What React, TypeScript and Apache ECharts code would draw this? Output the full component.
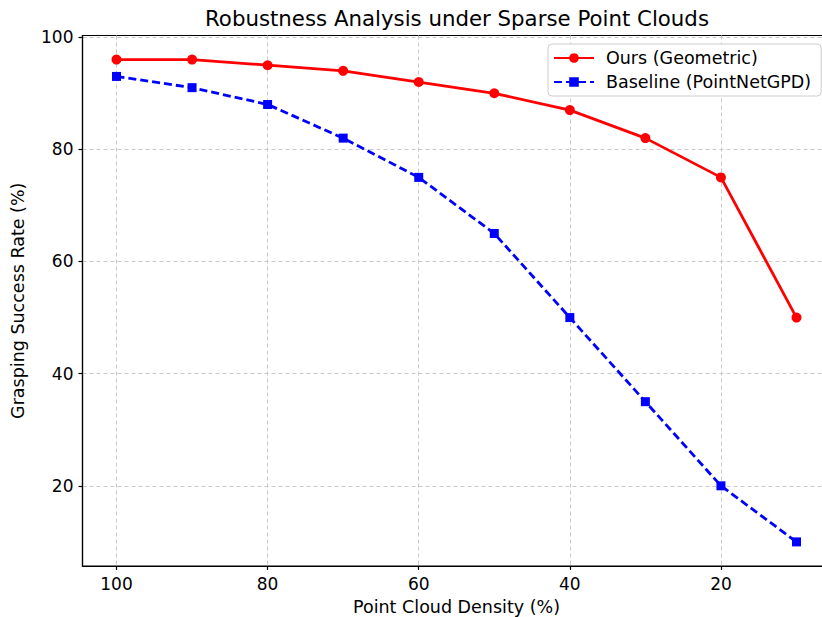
import React, { useEffect, useRef } from "react";
import * as echarts from "echarts";

const density = [100, 90, 80, 70, 60, 50, 40, 30, 20, 10];
const oursValues = [96, 96, 95, 94, 92, 90, 87, 82, 75, 50];
const baselineValues = [93, 91, 88, 82, 75, 65, 50, 35, 20, 10];
const xTicks = [20, 40, 60, 80, 100];
const yTicks = [20, 40, 60, 80, 100];

const FONT = "DejaVu Sans";
const CHART_W = 850;

export default function App() {
  const ref = useRef<HTMLDivElement>(null);
  useEffect(() => {
    if (!ref.current) return;
    const chart = echarts.init(ref.current, undefined, { renderer: "svg" });
    const axisCommon = {
      axisLine: { show: true, lineStyle: { color: "#000", width: 1.2 } },
      axisTick: { show: true, length: 4, inside: false, lineStyle: { color: "#000", width: 1.2 } },
      splitLine: { show: true, lineStyle: { color: "#c8c8c8", type: [4, 3], width: 1 } },
      nameTextStyle: { fontFamily: FONT, fontSize: 17.5, color: "#000" },
    };
    chart.setOption({
      animation: false,
      backgroundColor: "#fff",
      textStyle: { fontFamily: FONT },
      grid: {
        left: 82.5,
        right: CHART_W - 830.5,
        top: 35.5,
        bottom: 51,
        containLabel: false,
        outerBoundsMode: "none",
        show: true,
        borderColor: "#000",
        borderWidth: 1.2,
        backgroundColor: "transparent",
      },
      graphic: [
        {
          type: "text",
          x: 457,
          y: 18,
          style: { text: "Robustness Analysis under Sparse Point Clouds", fontFamily: FONT, fontSize: 21.3, fill: "#000", textAlign: "center", textVerticalAlign: "middle" },
        },
      ],
      legend: {
        left: 548,
        top: 44,
        orient: "vertical",
        itemWidth: 40,
        itemHeight: 12,
        itemGap: 6,
        padding: [5, 10, 5, 5],
        backgroundColor: "#fff",
        borderColor: "#cccccc",
        borderWidth: 1,
        borderRadius: 4,
        textStyle: { fontFamily: FONT, fontSize: 17.5, color: "#000", padding: [0, 0, 0, 7] },
        data: ["Ours (Geometric)", "Baseline (PointNetGPD)"],
      },
      xAxis: {
        type: "value",
        inverse: true,
        min: 5.5,
        max: 104.5,
        name: "Point Cloud Density (%)",
        nameLocation: "middle",
        nameGap: 32,
        ...axisCommon,
        axisTick: { ...axisCommon.axisTick, customValues: xTicks },
        axisLabel: { customValues: xTicks, fontFamily: FONT, fontSize: 17, color: "#000", margin: 9 },
      },
      yAxis: {
        type: "value",
        min: 5.7,
        max: 100.3,
        name: "Grasping Success Rate (%)",
        nameLocation: "middle",
        nameGap: 56,
        nameRotate: 90,
        ...axisCommon,
        axisTick: { ...axisCommon.axisTick, customValues: yTicks },
        axisLabel: { customValues: yTicks, fontFamily: FONT, fontSize: 17, color: "#000", margin: 9 },
      },
      series: [
        {
          name: "Ours (Geometric)",
          type: "line",
          data: density.map((d, i) => [d, oursValues[i]]),
          symbol: "circle",
          symbolSize: 10,
          itemStyle: { color: "#ff0000" },
          lineStyle: { color: "#ff0000", width: 2.8 },
          z: 3,
        },
        {
          name: "Baseline (PointNetGPD)",
          type: "line",
          data: density.map((d, i) => [d, baselineValues[i]]),
          symbol: "rect",
          symbolSize: 9,
          itemStyle: { color: "#0000ff" },
          lineStyle: { color: "#0000ff", width: 2.8, type: [8, 4] },
          z: 2,
        },
      ],
    });
    return () => chart.dispose();
  }, []);
  return (
    <div style={{ position: "absolute", left: 0, top: 0, width: 822, height: 617, overflow: "hidden", background: "#fff" }}>
      <div ref={ref} style={{ width: CHART_W, height: 617 }} />
    </div>
  );
}
